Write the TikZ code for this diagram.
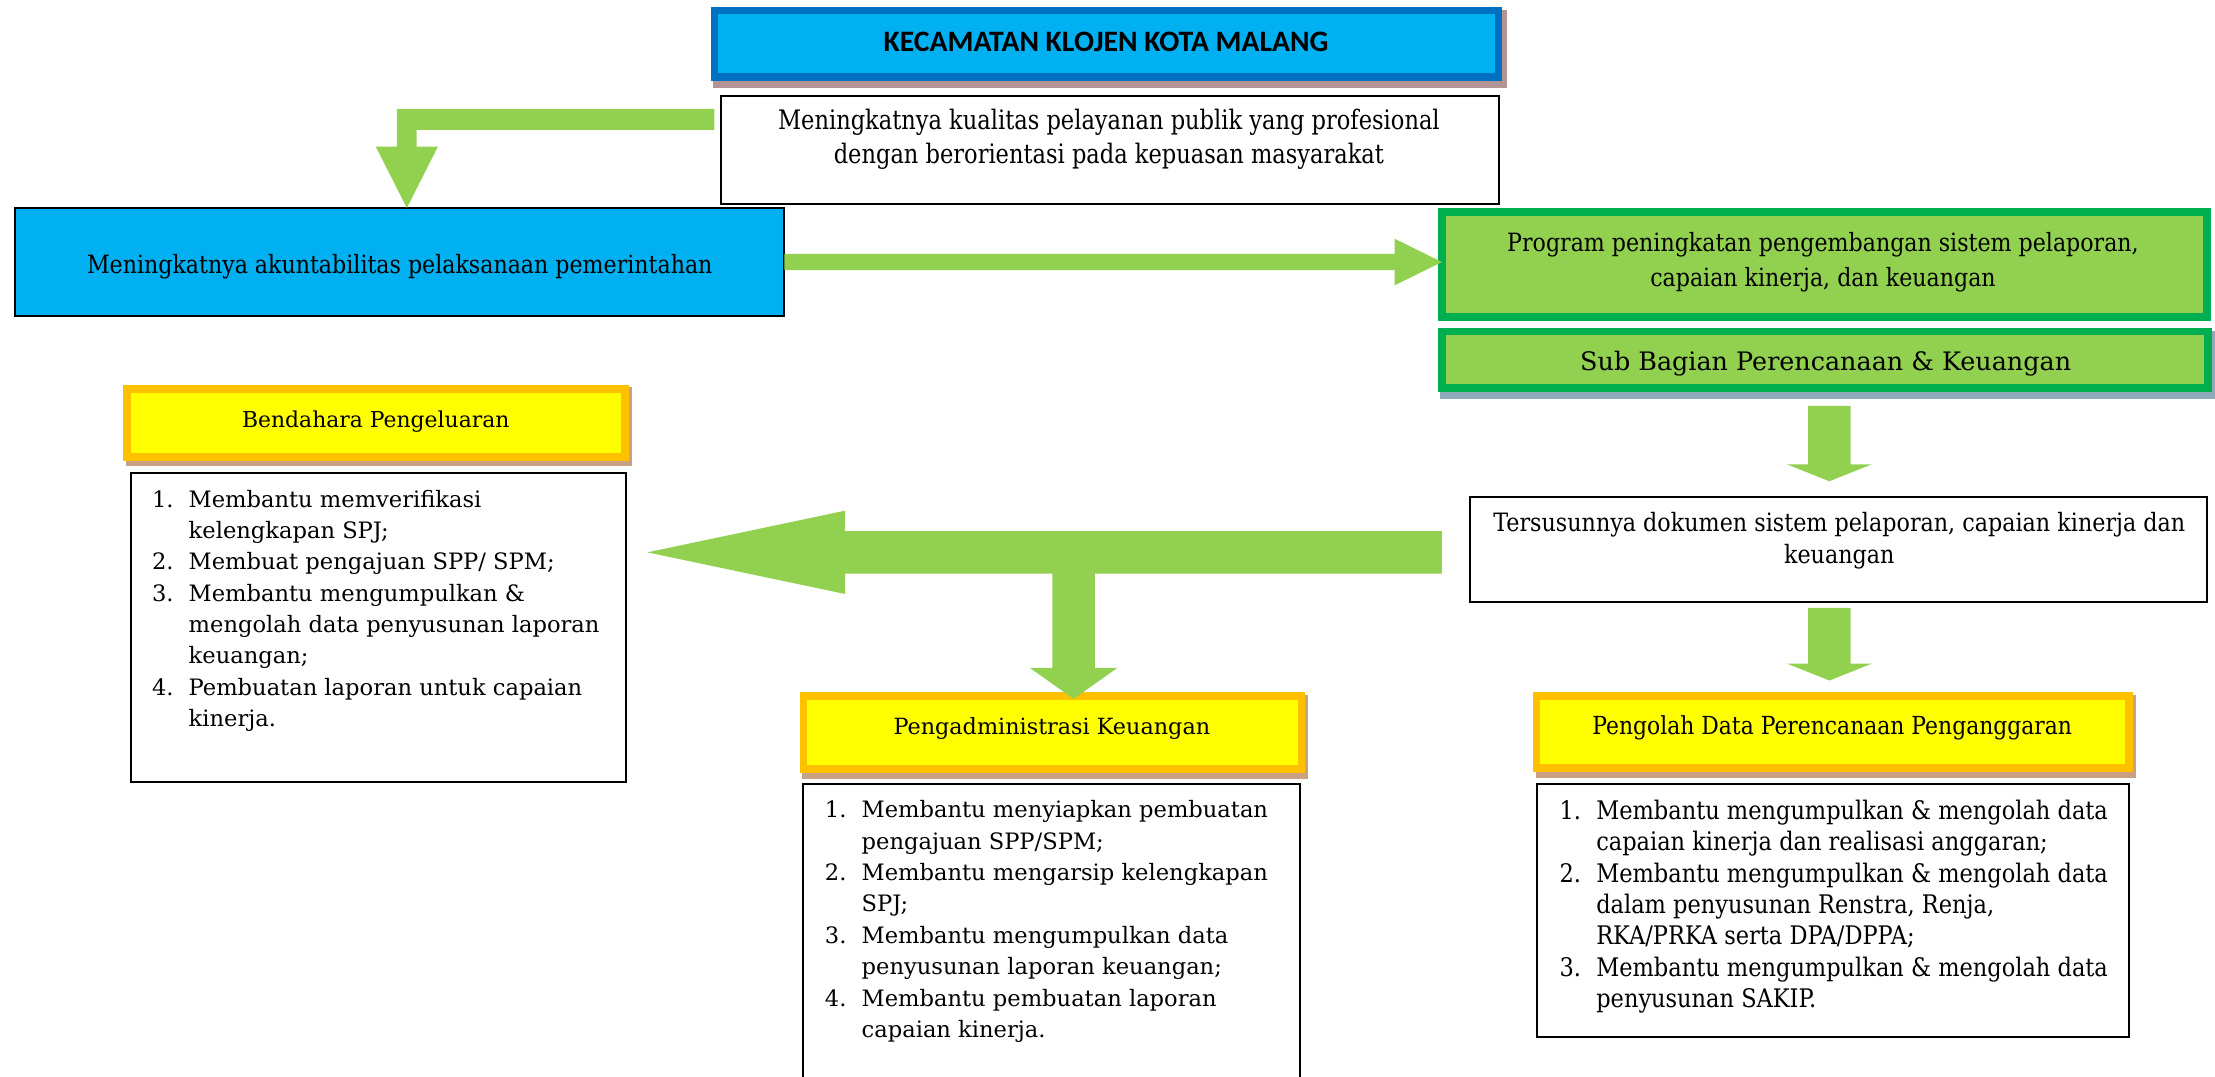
\documentclass[tikz,border=0pt]{standalone}
\usepackage{fontspec}
\setmainfont{DejaVu Serif}
\newfontfamily\srk[FakeStretch=0.84]{DejaVu Serif}
\newfontfamily\srn[FakeStretch=0.88]{DejaVu Serif}
\newfontfamily\titlefont{Carlito}
\usetikzlibrary{calc}
\definecolor{bluefill}{HTML}{00B0F0}
\definecolor{blueline}{HTML}{0070C0}
\definecolor{grfill}{HTML}{92D050}
\definecolor{grline}{HTML}{00B050}
\definecolor{yfill}{HTML}{FFFF00}
\definecolor{yline}{HTML}{FFC000}
\definecolor{arrowgr}{HTML}{92D050}
\definecolor{shtitle}{HTML}{B39494}
\definecolor{shyel}{HTML}{CBA183}
\definecolor{shsub}{HTML}{8FA9B8}
\newcommand{\li}[1]{\makebox[26pt][l]{#1}}
\newcommand{\lc}{\hspace*{26pt}}
\begin{document}
\begin{tikzpicture}[x=1pt,y=-1pt,
  tx/.style={inner sep=0pt, outer sep=0pt, text=black},
  bx/.style={rectangle, inner sep=0pt, outer sep=0pt},
  thinbox/.style={bx, draw=black, line width=1.4pt, fill=white},
  ybox/.style={bx, draw=yline, line width=5.5pt, fill=yfill},
  gbox/.style={bx, draw=grline, line width=5.5pt, fill=grfill},
  arr/.style={fill=arrowgr},
  lst/.style={tx, anchor=base west, font=\fontsize{16}{22.2}\selectfont}
]
\path[use as bounding box] (0,0) rectangle (1568,762);
\begin{scope}
\clip (0,0) rectangle (1568,762);

% ---------- shadows ----------
\fill[shtitle] (505,7) rectangle (1067,62);
\fill[shsub] (1019.5,234) rectangle (1568,282.2);
\fill[shyel] (89,274) rectangle (447.5,330.2);
\fill[shyel] (568,492) rectangle (926,551.2);
\fill[shyel] (1087,492) rectangle (1512,550.7);

% ---------- boxes ----------
\node[bx, draw=blueline, line width=5pt, fill=bluefill, minimum width=555pt, minimum height=47pt] (title) at (783,31) {};
\node[thinbox, minimum width=550.6pt, minimum height=76.6pt] (vision) at (786,106) {};
\node[bx, draw=black, line width=1.5pt, fill=bluefill, minimum width=544.5pt, minimum height=76.5pt] (blue) at (283,185.5) {};
\node[gbox, minimum width=541.5pt, minimum height=74pt] (prog) at (1291.5,187.25) {};
\node[gbox, minimum width=542.5pt, minimum height=40pt] (sub) at (1292,254.75) {};
\node[thinbox, minimum width=521.6pt, minimum height=74.6pt] (ters) at (1301.5,389) {};
\node[ybox, minimum width=352.5pt, minimum height=48pt] (bend) at (266,299.25) {};
\node[thinbox, minimum width=350.6pt, minimum height=218.6pt] (bendl) at (268,444) {};
\node[ybox, minimum width=352.5pt, minimum height=51.5pt] (adm) at (745,518.5) {};
\node[thinbox, minimum width=351.6pt, minimum height=219.6pt] (adml) at (744.5,664.5) {};
\node[ybox, minimum width=419.5pt, minimum height=51pt] (pgl) at (1297.5,518.25) {};
\node[thinbox, minimum width=419.6pt, minimum height=179.6pt] (pgll) at (1297.5,644.5) {};

% ---------- texts ----------
\node[tx, anchor=base, font=\titlefont\bfseries\fontsize{21}{24}\selectfont] (titleT) at (783,36.5) {KECAMATAN KLOJEN KOTA MALANG};
\node[tx, anchor=base, font=\srk\fontsize{19}{23.6}\selectfont] (visionT) at (785,92)
  {\begin{tabular}[t]{@{}c@{}}Meningkatnya kualitas pelayanan publik yang profesional\\ dengan berorientasi pada kepuasan masyarakat\end{tabular}};
\node[tx, anchor=base, font=\srn\fontsize{17.8}{21}\selectfont] (blueT) at (283,193.5) {Meningkatnya akuntabilitas pelaksanaan pemerintahan};
\node[tx, anchor=base, font=\srn\fontsize{17.8}{25}\selectfont] (progT) at (1290.5,178)
  {\begin{tabular}[t]{@{}c@{}}Program peningkatan pengembangan sistem pelaporan,\\ capaian kinerja, dan keuangan\end{tabular}};
\node[tx, anchor=base, font=\fontsize{18}{22}\selectfont] (subT) at (1292.4,262) {Sub Bagian Perencanaan \& Keuangan};
\node[tx, anchor=base, font=\srn\fontsize{17.9}{22.5}\selectfont] (tersT) at (1302,376.4)
  {\begin{tabular}[t]{@{}c@{}}Tersusunnya dokumen sistem pelaporan, capaian kinerja dan\\ keuangan\end{tabular}};
\node[tx, anchor=base, font=\fontsize{15.5}{19}\selectfont] (bendT) at (266,302.5) {Bendahara Pengeluaran};
\node[tx, anchor=base, font=\fontsize{15.8}{19}\selectfont] (admT) at (744.6,520) {Pengadministrasi Keuangan};
\node[tx, anchor=base, font=\srn\fontsize{17.6}{21}\selectfont] (pglT) at (1297,520) {Pengolah Data Perencanaan Penganggaran};

\node[lst] (bendL) at (107.6,359)
  {\begin{tabular}[t]{@{}l@{}}\li{1.}Membantu memverifikasi\\ \lc kelengkapan SPJ;\\
   \li{2.}Membuat pengajuan SPP/ SPM;\\ \li{3.}Membantu mengumpulkan \&\\
   \lc mengolah data penyusunan laporan\\ \lc keuangan;\\
   \li{4.}Pembuatan laporan untuk capaian\\ \lc kinerja.\end{tabular}};
\node[lst] (admL) at (584,579)
  {\begin{tabular}[t]{@{}l@{}}\li{1.}Membantu menyiapkan pembuatan\\ \lc pengajuan SPP/SPM;\\
   \li{2.}Membantu mengarsip kelengkapan\\ \lc SPJ;\\
   \li{3.}Membantu mengumpulkan data\\ \lc penyusunan laporan keuangan;\\
   \li{4.}Membantu pembuatan laporan\\ \lc capaian kinerja.\end{tabular}};
\node[lst, font=\srn\fontsize{18.1}{22.2}\selectfont] (pglL) at (1104,580)
  {\begin{tabular}[t]{@{}l@{}}\li{1.}Membantu mengumpulkan \& mengolah data\\ \lc capaian kinerja dan realisasi anggaran;\\
   \li{2.}Membantu mengumpulkan \& mengolah data\\ \lc dalam penyusunan Renstra, Renja,\\ \lc RKA/PRKA serta DPA/DPPA;\\
   \li{3.}Membantu mengumpulkan \& mengolah data\\ \lc penyusunan SAKIP.\end{tabular}};

% ---------- arrows ----------
% elbow: vision -> blue
\coordinate (e1s) at ($(vision.west)+(-5,-21.5)$);
\coordinate (e1t) at ($(blue.north)+(5,0)$);
\fill[arr] ($(e1s)+(0,-7.5)$) -- ($(e1s -| e1t)+(-7,-7.5)$) -- ($(e1t)+(-7,-43.5)$) -- ($(e1t)+(-22,-43.5)$)
  -- (e1t) -- ($(e1t)+(22,-43.5)$) -- ($(e1t)+(7,-43.5)$) -- ($(e1s -| e1t)+(7,7.5)$) -- ($(e1s)+(0,7.5)$) -- cycle;
% blue -> prog
\coordinate (a2s) at (blue.east);
\coordinate (a2t) at (prog.west |- blue.east);
\fill[arr] ($(a2s)+(0,-5.75)$) -- ($(a2t)+(-33.5,-5.75)$) -- ($(a2t)+(-33.5,-16.5)$) -- (a2t)
  -- ($(a2t)+(-33.5,16.5)$) -- ($(a2t)+(-33.5,5.75)$) -- ($(a2s)+(0,5.75)$) -- cycle;
% sub -> ters
\coordinate (a3s) at ($(sub.south)+(3,12.5)$);
\coordinate (a3t) at ($(ters.north -| a3s)+(0,-11)$);
\fill[arr] ($(a3s)+(-15,0)$) -- ($(a3t)+(-15,-12)$) -- ($(a3t)+(-30,-12)$) -- (a3t)
  -- ($(a3t)+(30,-12)$) -- ($(a3t)+(15,-12)$) -- ($(a3s)+(15,0)$) -- cycle;
% ters -> pgl
\coordinate (a4s) at ($(ters.south -| a3s)+(0,4)$);
\coordinate (a4t) at ($(pgl.north -| a3s)+(0,-11)$);
\fill[arr] ($(a4s)+(-15,0)$) -- ($(a4t)+(-15,-12)$) -- ($(a4t)+(-30,-12)$) -- (a4t)
  -- ($(a4t)+(30,-12)$) -- ($(a4t)+(15,-12)$) -- ($(a4s)+(15,0)$) -- cycle;
% ters -> bendahara (big left arrow)
\coordinate (a5s) at ($(ters.west)+(-20,2)$);
\coordinate (a5t) at ($(bendl.east |- a5s)+(15,0)$);
\fill[arr] ($(a5s)+(0,-15)$) -- ($(a5t)+(140,-15)$) -- ($(a5t)+(140,-29.5)$) -- (a5t)
  -- ($(a5t)+(140,29.5)$) -- ($(a5t)+(140,15)$) -- ($(a5s)+(0,15)$) -- cycle;
% branch -> adm
\coordinate (a6t) at ($(adm.north)+(15,2)$);
\coordinate (a6s) at (a5s -| a6t);
\fill[arr] ($(a6s)+(-15,0)$) -- ($(a6t)+(-15,-22)$) -- ($(a6t)+(-31,-22)$) -- (a6t)
  -- ($(a6t)+(31,-22)$) -- ($(a6t)+(15,-22)$) -- ($(a6s)+(15,0)$) -- cycle;
\end{scope}
\end{tikzpicture}
\end{document}
